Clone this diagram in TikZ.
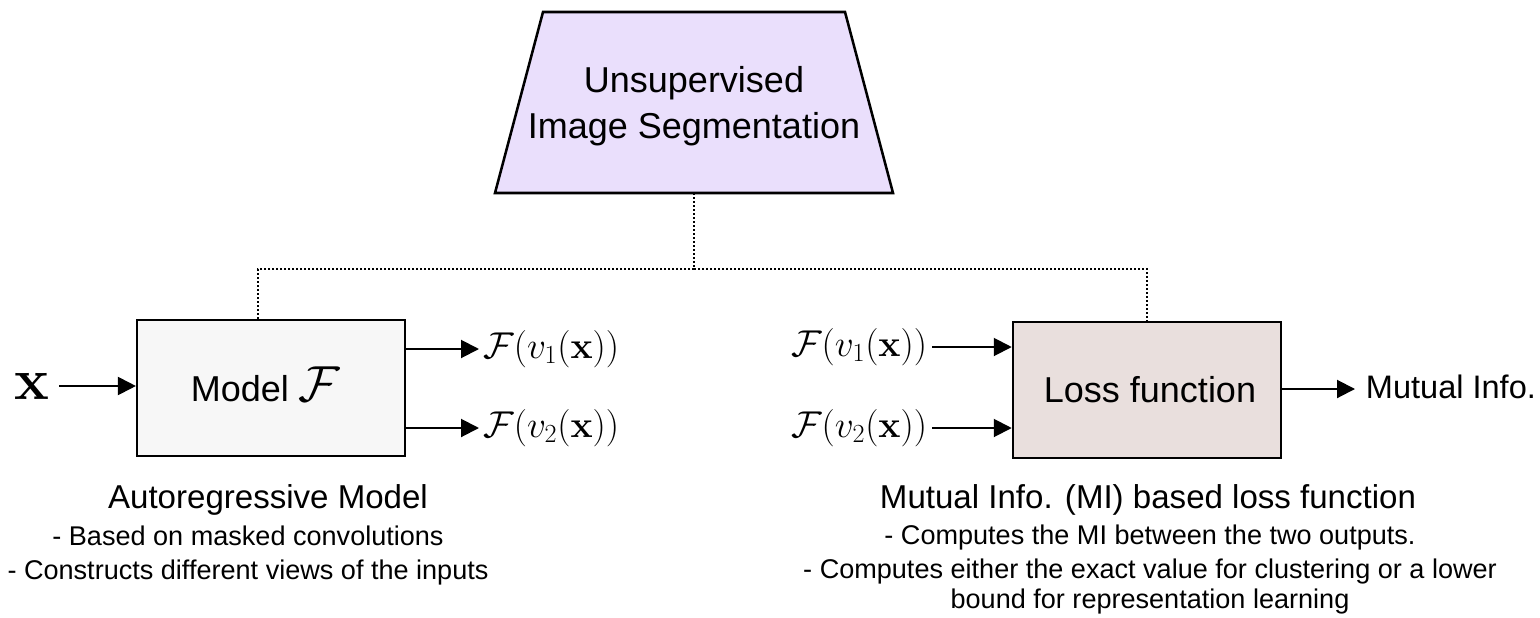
\RequirePackage{fix-cm}
\documentclass[tikz,border=0pt]{standalone}
\usepackage[no-math]{fontspec}
\setmainfont{Liberation Sans}
\usetikzlibrary{arrows.meta}
\definecolor{segfill}{RGB}{234,223,252}
\definecolor{modelfill}{RGB}{247,247,247}
\definecolor{lossfill}{RGB}{233,223,221}
\tikzset{
  blockbox/.style={draw=black, line width=1.9pt, inner sep=0pt, minimum width=268*0.75pt, minimum height=136*0.75pt},
  flow/.style={line width=1.5pt, -{Triangle[length=13.5pt,width=13.5pt]}},
  link/.style={line width=1.4pt, dash pattern=on 1.4pt off 1.6pt},
  maintxt/.style={font=\fontsize{27}{32}\selectfont, inner sep=0pt},
  mathtxt/.style={font=\fontsize{28}{32}\selectfont, inner ysep=0pt},
  headtxt/.style={font=\fontsize{24.8}{28}\selectfont, inner sep=0pt},
  bodytxt/.style={font=\fontsize{20.3}{25.5}\selectfont, inner sep=0pt, align=center},
}
\begin{document}
\begin{tikzpicture}[x=0.75pt, y=-0.75pt]
\useasboundingbox (0,0) rectangle (1540,617);

% top block
\draw[fill=segfill, line width=1.9pt, line join=miter] (543,12) -- (845,12) -- (893,193) -- (495,193) -- cycle;
\node[maintxt, anchor=base] (seg1) at (694,93) {Unsupervised};
\node[maintxt, anchor=base] (seg2) at (694,138) {Image Segmentation};
\coordinate (segb) at (694,193);
\coordinate (hub) at (694,269);

% model block
\node[blockbox, fill=modelfill] (model) at (271.2,388) {};
\node[anchor=base west, inner sep=0pt, font=\fontsize{27}{32}\selectfont] (modeltxt) at (190.5,401.5)
  {Model \fontsize{38}{40}\selectfont$\mathcal{F}$};
\node[font=\fontsize{44}{44}\selectfont, inner ysep=0pt, inner xsep=7.5pt] (xin) at (31.5,386) {$\mathbf{x}$};
\coordinate (m1) at (model.east |- 0,349);
\coordinate (m2) at (model.east |- 0,428);
\node[mathtxt, anchor=west, inner xsep=3pt] (o1) at (479,349) {$\mathcal{F}(v_1(\mathbf{x}))$};
\node[mathtxt, anchor=west, inner xsep=3pt] (o2) at (479,428) {$\mathcal{F}(v_2(\mathbf{x}))$};

% loss block
\node[blockbox, fill=lossfill] (loss) at (1147,390) {};
\node[maintxt] (losstxt) at (1150,390) {Loss function};
\node[mathtxt, anchor=east, inner xsep=3.5pt] (i1) at (932,347) {$\mathcal{F}(v_1(\mathbf{x}))$};
\node[mathtxt, anchor=east, inner xsep=3.5pt] (i2) at (932,428) {$\mathcal{F}(v_2(\mathbf{x}))$};
\node[font=\fontsize{24.4}{28}\selectfont, anchor=base west, inner ysep=0pt, inner xsep=8pt] (mi) at (1355,398) {Mutual Info.};

% dotted hierarchy
\draw[link] (segb) -- (hub);
\draw[link] (hub) -| (model.north -| 258,0);
\draw[link] (hub) -| (loss.north);

% data flow
\draw[flow] (xin.east) -- (model.west |- xin.east);
\draw[flow] (m1) -- (o1.west);
\draw[flow] (m2) -- (o2.west);
\draw[flow] (i1.east) -- (loss.west |- i1.east);
\draw[flow] (i2.east) -- (loss.west |- i2.east);
\draw[flow] (loss.east |- 0,389) -- (mi.west |- 0,389);

% captions
\node[headtxt, anchor=base] (capl) at (268,508) {Autoregressive Model};
\node[bodytxt, anchor=base] (capl1) at (248,545) {- Based on masked convolutions};
\node[bodytxt, anchor=base] (capl2) at (248,579) {- Constructs different views of the inputs};
\node[headtxt, anchor=base] (capr) at (1148,508) {Mutual Info. (MI) based loss function};
\node[bodytxt, anchor=base] (capr1) at (1150,544) {- Computes the MI between the two outputs.};
\node[bodytxt, anchor=base] (capr2) at (1150,578) {- Computes either the exact value for clustering or a lower};
\node[bodytxt, anchor=base] (capr3) at (1150,608) {bound for representation learning};
\end{tikzpicture}
\end{document}
